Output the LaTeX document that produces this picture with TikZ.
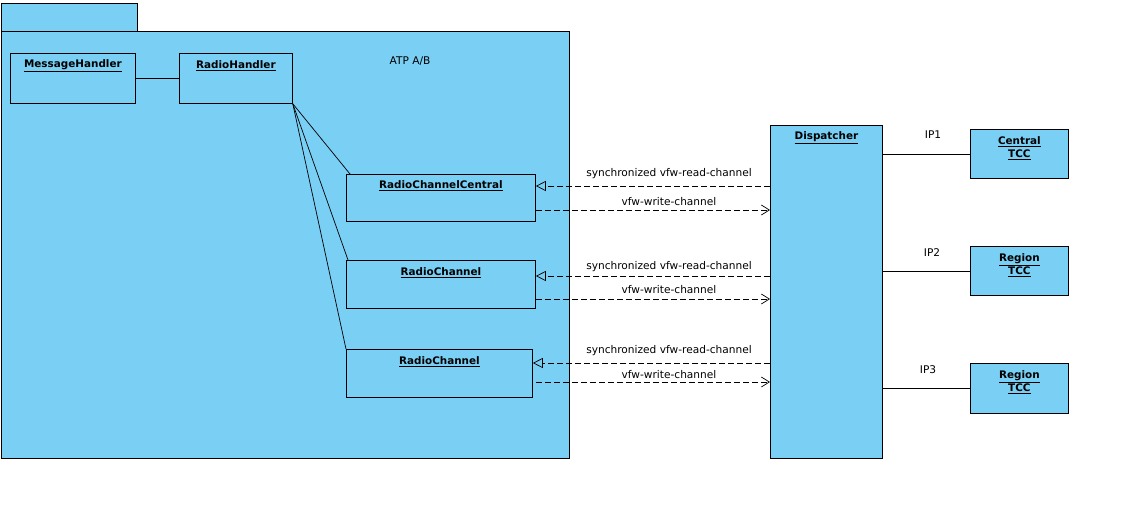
\documentclass[tikz,border=0pt]{standalone}
\usepackage{fontspec}
\setmainfont{DejaVu Sans}
\usetikzlibrary{arrows.meta,calc}
\definecolor{umlblue}{RGB}{122,207,244}
\begin{document}
\begin{tikzpicture}[x=1pt,y=-1pt,
  box/.style={draw=black,fill=umlblue,line width=0.8pt,rectangle,anchor=north west,inner sep=0pt},
  ttl/.style={font=\fontsize{10.4}{13}\selectfont\bfseries,inner sep=0pt,align=center},
  lbl/.style={font=\fontsize{10.6}{13}\selectfont,inner sep=0pt},
  assoc/.style={draw=black,line width=0.7pt},
  rd/.style={draw=black,line width=0.7pt,dash pattern=on 6pt off 3pt,-{Triangle[open,length=10pt,width=10pt]}},
  wr/.style={draw=black,line width=0.7pt,dash pattern=on 6pt off 3pt,-{Straight Barb[length=8pt,width=10pt]}}]
\useasboundingbox[fill=white] (0,0) rectangle (1121,525);
% package
\node[box,minimum width=136,minimum height=28] (tab) at (1,3) {};
\node[box,minimum width=568,minimum height=427] (pkg) at (1,31) {};
\node[lbl] (atp) at (410,61) {ATP A/B};
% classes
\node[box,minimum width=125,minimum height=50] (mh) at (10,53) {};
\node[ttl] at ($(mh.north)+(0,13)$) {\underline{MessageHandler}};
\node[box,minimum width=113,minimum height=50] (rh) at (179,53) {};
\node[ttl] at ($(rh.north)+(0,13)$) {\underline{RadioHandler}};
\node[box,minimum width=189,minimum height=47] (rcc) at (346,174) {};
\node[ttl] at ($(rcc.north)+(0,12)$) {\underline{RadioChannelCentral}};
\node[box,minimum width=189,minimum height=48] (rc1) at (346,260) {};
\node[ttl] at ($(rc1.north)+(0,13)$) {\underline{RadioChannel}};
\node[box,minimum width=186,minimum height=48] (rc2) at (346,349) {};
\node[ttl] at ($(rc2.north)+(0,13)$) {\underline{RadioChannel}};
\node[box,minimum width=112,minimum height=333] (disp) at (770,125) {};
\node[ttl] at ($(disp.north)+(0,13)$) {\underline{Dispatcher}};
\node[box,minimum width=98,minimum height=49] (tcc1) at (970,129) {};
\node[ttl] at ($(tcc1.north)+(0,19)$) {\underline{Central}\\\underline{TCC}};
\node[box,minimum width=98,minimum height=49] (tcc2) at (970,246) {};
\node[ttl] at ($(tcc2.north)+(0,19)$) {\underline{Region}\\\underline{TCC}};
\node[box,minimum width=98,minimum height=50] (tcc3) at (970,363) {};
\node[ttl] at ($(tcc3.north)+(0,19)$) {\underline{Region}\\\underline{TCC}};
% associations
\draw[assoc] (mh.east |- 0,78) -- (rh.west |- 0,78);
\draw[assoc] (rh.south east) -- ($(rcc.north west)+(4,0)$);
\draw[assoc] (rh.south east) -- ($(rc1.north west)+(2,0)$);
\draw[assoc] (rh.south east) -- (rc2.north west);
% channels
\draw[rd] (disp.west |- 0,186) -- (rcc.east |- 0,186);
\draw[wr] (rcc.east |- 0,210) -- (disp.west |- 0,210);
\node[lbl] at (669,174) {synchronized vfw-read-channel};
\node[lbl] at (669,202) {vfw-write-channel};
\draw[rd] (disp.west |- 0,276) -- (rc1.east |- 0,276);
\draw[wr] (rc1.east |- 0,299) -- (disp.west |- 0,299);
\node[lbl] at (669,267) {synchronized vfw-read-channel};
\node[lbl] at (669,290) {vfw-write-channel};
\draw[rd] (disp.west |- 0,363) -- (rc2.east |- 0,363);
\draw[wr] ($(rc2.east |- 0,382)+(3,0)$) -- (disp.west |- 0,382);
\node[lbl] at (669,351) {synchronized vfw-read-channel};
\node[lbl] at (669,375) {vfw-write-channel};
% IP links
\draw[assoc] (disp.east |- 0,154) -- (tcc1.west |- 0,154);
\node[lbl] at (933,135) {IP1};
\draw[assoc] (disp.east |- 0,271) -- (tcc2.west |- 0,271);
\node[lbl] at (932,253) {IP2};
\draw[assoc] (disp.east |- 0,388) -- (tcc3.west |- 0,388);
\node[lbl] at (928,370) {IP3};
\end{tikzpicture}
\end{document}
